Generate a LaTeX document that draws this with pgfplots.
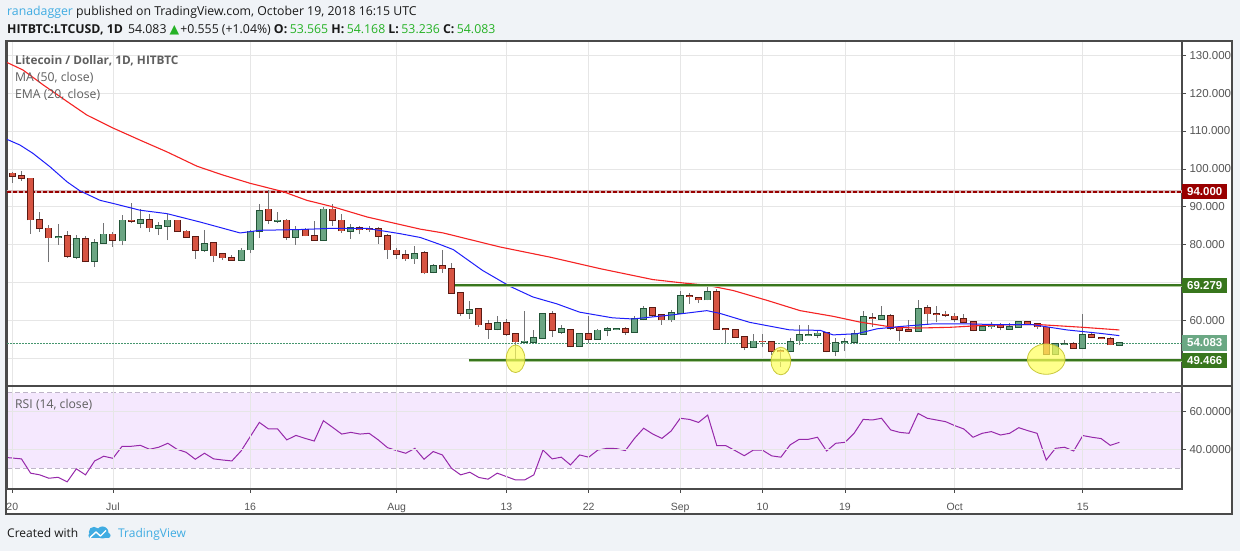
\documentclass[border=0pt]{standalone}
\usepackage{fontspec}
\setmainfont{Open Sans}
\newfontfamily\ar{Liberation Sans}
\newfontfamily\djv{DejaVu Sans}
\usepackage{pgfplots}
\pgfplotsset{compat=1.18}
\usepackage{pgfplotstable}
\definecolor{bgc}{RGB}{240,243,247}
\definecolor{frame}{RGB}{74,74,74}
\definecolor{gridc}{RGB}{230,230,230}
\definecolor{upfill}{RGB}{107,165,131}
\definecolor{upbord}{RGB}{34,84,55}
\definecolor{dnfill}{RGB}{215,84,66}
\definecolor{dnbord}{RGB}{91,26,19}
\definecolor{wick}{RGB}{115,115,117}
\definecolor{mared}{RGB}{245,35,35}
\definecolor{emablue}{RGB}{30,30,250}
\definecolor{supg}{RGB}{56,118,29}
\definecolor{supgl}{RGB}{170,200,150}
\definecolor{dred}{RGB}{153,0,0}
\definecolor{dredl}{RGB}{215,185,185}
\definecolor{curp}{RGB}{70,150,110}
\definecolor{curbox}{RGB}{107,168,132}
\definecolor{elly}{RGB}{255,255,90}
\definecolor{ellb}{RGB}{200,200,60}
\definecolor{rsic}{RGB}{150,40,170}
\definecolor{rsiband}{RGB}{245,232,254}
\definecolor{rsidash}{RGB}{190,180,200}
\definecolor{ticklab}{RGB}{85,85,85}
\definecolor{hgreen}{RGB}{38,178,38}
\definecolor{tvblue}{RGB}{64,172,226}
\definecolor{htext}{RGB}{25,25,25}
\definecolor{legc}{RGB}{95,95,95}

% up candles: day index, open, high, low, close
\pgfplotstableread{
d o h l c
5 81.9 85.4 80.0 82.1
7 76.8 82.5 76.1 81.6
9 75.6 81.6 74.1 80.5
10 80.5 85.7 80.3 82.7
12 81.1 87.8 79.8 86.4
14 85.7 89.5 84.4 86.6
16 84.4 86.0 82.5 85.0
17 85.0 88.2 81.2 86.4
21 78.5 83.8 78.1 80.3
25 76.0 79.2 75.6 78.5
26 78.7 84.0 77.8 83.5
27 83.5 90.7 81.8 89.0
29 86.3 88.6 85.7 86.4
31 82.0 84.9 80.0 84.0
34 81.2 90.0 81.0 89.3
37 83.5 85.4 81.5 84.4
44 76.3 79.6 75.0 77.6
46 72.8 75.0 72.4 74.5
50 62.0 65.1 60.4 62.8
53 57.8 61.3 57.4 59.4
56 54.3 62.4 54.0 54.5
57 54.3 57.5 54.2 55.4
58 55.4 61.9 55.3 61.8
60 56.9 58.9 56.5 57.8
62 53.2 56.8 53.1 56.5
64 55.1 57.8 55.0 57.4
65 57.4 58.2 55.8 57.8
66 57.7 58.0 57.4 57.8
68 56.9 61.3 56.7 60.4
69 60.4 63.7 60.0 63.1
72 60.2 62.8 59.6 62.0
73 62.0 67.9 61.9 66.5
76 65.5 69.0 65.3 67.5
81 52.9 56.5 52.7 54.5
85 51.9 55.5 51.6 54.3
86 54.7 58.9 53.4 56.2
87 56.2 58.9 55.8 56.3
88 56.2 57.5 55.3 56.6
90 51.9 55.4 50.6 54.1
91 54.2 55.4 51.9 54.3
92 54.3 57.4 53.7 56.5
93 56.5 62.6 56.3 60.9
95 60.4 63.7 60.0 61.3
99 57.2 65.5 57.1 63.1
106 57.5 59.0 57.4 58.4
107 58.4 59.6 57.8 58.9
109 57.8 59.3 57.5 58.4
110 58.2 59.9 58.1 59.6
114 51.2 53.9 51.2 53.8
115 53.8 54.9 53.7 53.9
117 52.8 61.6 52.5 56.3
121 53.565 54.168 53.236 54.083
}\upc

% down candles
\pgfplotstableread{
d o h l c
0 98.8 99.2 96.4 98.1
1 98.1 99.4 96.9 97.5
2 97.5 97.7 82.9 86.6
3 86.6 88.6 83.4 84.3
4 84.3 85.1 75.4 81.9
6 82.3 83.6 76.5 76.9
8 81.6 82.2 75.4 75.6
11 82.7 83.4 79.4 81.3
13 86.4 91.1 85.7 86.2
15 86.6 88.2 83.4 84.5
18 86.4 86.6 83.4 83.5
19 83.5 84.0 81.8 82.0
20 82.1 82.4 76.3 78.5
22 80.5 80.7 75.4 77.1
23 77.6 77.8 75.9 76.6
24 76.6 77.2 75.8 76.0
28 89.3 94.4 85.4 86.4
30 86.4 86.7 81.2 82.0
32 84.0 84.5 82.2 82.4
33 82.4 86.3 81.2 81.3
35 89.3 90.7 84.9 86.4
36 86.4 88.0 83.1 83.7
38 84.5 85.0 82.7 84.0
39 84.2 85.0 83.4 84.1
40 84.1 84.8 80.3 82.2
41 82.4 82.9 76.2 78.7
42 78.5 79.0 76.2 77.6
43 77.4 78.5 75.7 76.3
45 77.9 78.3 72.2 72.6
47 74.5 78.7 72.6 73.7
48 73.7 75.3 67.1 67.3
49 67.3 67.6 61.1 62.0
51 63.1 63.2 58.4 58.9
52 59.1 60.0 55.1 57.8
54 59.4 60.4 56.0 56.5
55 56.5 56.6 49.6 54.4
59 61.8 62.4 55.6 57.4
61 57.5 57.6 52.9 53.2
63 56.5 61.1 54.0 55.1
67 57.8 58.2 56.2 56.9
70 63.4 63.5 60.9 61.5
71 61.5 61.7 58.9 60.2
74 66.5 67.2 64.4 66.4
75 65.9 66.3 64.6 65.5
77 67.5 68.4 57.6 57.8
78 57.8 58.0 54.1 57.6
79 57.5 57.8 55.5 55.6
80 55.6 55.8 52.2 52.9
82 54.5 56.5 52.9 54.4
83 54.3 54.7 51.0 51.9
84 51.9 52.5 47.8 51.8
89 56.7 56.8 51.6 51.9
94 60.7 62.0 58.4 60.6
96 61.3 61.6 57.5 58.0
97 58.0 58.2 54.5 57.5
98 57.5 60.0 57.0 57.1
100 63.4 64.2 59.0 61.8
101 61.8 63.7 59.5 61.6
102 61.6 62.5 60.9 61.4
103 61.1 62.0 59.6 60.4
104 60.4 61.8 59.5 59.6
105 59.6 59.8 57.1 57.5
108 58.9 59.3 57.4 58.2
111 59.6 59.8 58.8 59.1
112 59.1 59.3 57.8 58.4
113 58.2 58.4 51.0 51.2
116 53.8 54.4 52.5 52.8
118 56.3 56.9 55.3 55.6
119 55.4 55.6 55.0 55.3
120 55.1 55.6 53.4 53.6
}\dnc

% MA (50, close)
\pgfplotstableread{
d v
-0.58 128.1
1.17 126.1
3.36 122.2
5.98 117.8
8.16 114.2
11.0 110.8
13.96 107.6
16.9 104.5
20.2 100.7
23.0 98.4
26.0 96.2
29.6 94.0
32.2 91.7
35.05 90.0
38.8 87.3
44.6 84.1
47.1 83.1
53.3 79.4
58.8 76.7
64.2 73.7
70.0 70.8
73.3 69.9
75.9 69.3
78.8 67.9
82.5 65.3
86.1 62.6
89.7 61.1
92.6 59.6
96.3 58.2
98.9 58.0
102.5 58.2
106.1 58.7
109.8 58.9
112.3 58.9
117.0 58.2
121.0 57.5
}\mafifty

% EMA (20, close)
\pgfplotstableread{
d v
-0.58 107.8
0.84 106.3
2.26 104.1
4.1 100.6
5.98 96.6
7.4 94.2
9.6 91.7
11.0 90.9
13.96 89.1
16.9 88.2
20.5 86.0
24.9 83.1
27.1 83.8
31.4 84.0
34.7 84.3
38.8 84.3
42.4 82.9
44.6 81.9
46.7 80.1
48.2 78.7
51.4 73.2
54.4 69.0
56.9 66.2
59.5 64.4
62.0 62.2
65.6 60.7
67.8 60.4
72.2 61.5
75.9 62.6
77.3 61.9
80.6 59.5
85.0 57.5
88.3 57.4
89.7 56.2
92.3 56.5
94.5 57.8
97.0 58.4
100.6 59.1
104.3 59.1
107.9 58.9
111.5 58.9
115.3 57.5
118.9 56.6
121.0 56.0
}\ematw

% RSI (14, close)
\pgfplotstableread{
d v
-0.58 35.6
1 34.9
2 27.3
3 26.4
4 24.6
5 25.1
6 22.7
7 29.6
8 26.4
9 33.8
10 36.3
11 35.2
12 41.6
13 41.6
14 42.1
15 40.0
16 41.1
17 43.2
18 40.0
19 38.4
20 34.7
21 37.9
22 34.9
23 34.3
24 33.8
25 39.1
26 46.7
27 54.3
28 50.8
29 50.8
30 45.0
31 47.4
32 45.8
33 44.4
34 55.2
35 51.7
36 48.1
37 49.0
38 48.1
39 48.5
40 45.0
41 40.9
42 39.3
43 37.9
44 40.5
45 34.7
46 38.8
47 37.0
48 29.9
49 26.4
50 27.8
51 25.0
52 24.1
53 27.3
54 25.5
55 23.7
56 23.7
57 26.4
58 39.6
59 34.9
60 35.8
61 31.7
62 37.0
63 35.8
64 39.6
65 40.5
66 40.4
67 39.3
68 45.8
69 51.2
70 48.1
71 45.8
72 49.7
73 56.5
74 55.9
75 54.3
76 58.2
77 41.9
78 41.9
79 39.3
80 36.6
81 39.6
82 39.5
83 36.5
84 35.8
85 42.3
86 45.3
87 45.3
88 46.4
89 39.1
90 43.2
91 43.7
92 48.5
93 55.9
94 55.6
95 56.5
96 50.3
97 49.0
98 48.5
99 59.1
100 56.5
101 55.6
102 54.7
103 52.6
104 50.8
105 46.4
106 48.5
107 49.4
108 47.6
109 48.5
110 51.5
111 49.9
112 48.5
113 34.3
114 40.5
115 41.1
116 39.1
117 47.3
118 46.4
119 45.7
120 42.1
121 43.7
}\rsitab

\begin{document}
\begin{tikzpicture}
\fill[bgc] (0pt,0pt) rectangle (1240pt,551pt);
\useasboundingbox (0pt,0pt) rectangle (1240pt,551pt);
\fill[white] (6pt,37pt) rectangle (1232pt,510pt);

% ---------------- main price pane ----------------
\begin{axis}[
  at={(7pt,165pt)}, anchor=south west, scale only axis,
  width=1175pt, height=344.5pt,
  xmin=-0.58, xmax=127.84, ymin=42.71, ymax=133.63,
  clip=false,
  axis line style={draw=frame, line width=1.2pt},
  xtick={0,11,26,42,54,63,73,82,91,103,117}, xticklabels={},
  xtick style={draw=none},
  ytick={50,60,...,130},
  yticklabels={{},60.000,{},80.000,90.000,100.000,110.000,120.000,130.000},
  ytick pos=right, yticklabel pos=right, tick align=outside,
  major tick length=4pt, ytick style={draw=frame, line width=0.8pt},
  yticklabel style={font={\ar\fontsize{11.5}{13}\selectfont}, text=ticklab},
  grid=major, major grid style={draw=gridc, line width=0.8pt},
]
% current price dotted line
\addplot[curp, line width=0.7pt, dash pattern=on 1.5pt off 1.5pt] coordinates {(-0.58,54.083) (127.84,54.083)};
% 94 resistance
\addplot[dredl, line width=3.4pt] coordinates {(-0.58,94) (127.84,94)};
\addplot[dred, line width=2pt, dash pattern=on 4pt off 2pt] coordinates {(-0.58,94) (127.84,94)};
% wicks
\addplot[draw=none, error bars/.cd, y dir=plus, y explicit, error mark=none,
  error bar style={draw=wick, line width=1pt}]
  table[x=d, y=l, y error expr=\thisrow{h}-\thisrow{l}] {\upc};
\addplot[draw=none, error bars/.cd, y dir=plus, y explicit, error mark=none,
  error bar style={draw=wick, line width=1pt}]
  table[x=d, y=l, y error expr=\thisrow{h}-\thisrow{l}] {\dnc};
% bodies (border then fill)
\addplot[draw=none, error bars/.cd, y dir=plus, y explicit, error mark=none,
  error bar style={draw=upbord, line width=7pt}]
  table[x=d, y expr={min(\thisrow{o},\thisrow{c})-0.2}, y error expr={abs(\thisrow{c}-\thisrow{o})+0.4}] {\upc};
\addplot[draw=none, error bars/.cd, y dir=plus, y explicit, error mark=none,
  error bar style={draw=upfill, line width=5pt}]
  table[x=d, y expr={min(\thisrow{o},\thisrow{c})}, y error expr={abs(\thisrow{c}-\thisrow{o})}] {\upc};
\addplot[draw=none, error bars/.cd, y dir=plus, y explicit, error mark=none,
  error bar style={draw=dnbord, line width=7pt}]
  table[x=d, y expr={min(\thisrow{o},\thisrow{c})-0.2}, y error expr={abs(\thisrow{c}-\thisrow{o})+0.4}] {\dnc};
\addplot[draw=none, error bars/.cd, y dir=plus, y explicit, error mark=none,
  error bar style={draw=dnfill, line width=5pt}]
  table[x=d, y expr={min(\thisrow{o},\thisrow{c})}, y error expr={abs(\thisrow{c}-\thisrow{o})}] {\dnc};
% moving averages
\addplot[mared, line width=1.1pt] table[x=d, y=v] {\mafifty};
\addplot[emablue, line width=1pt] table[x=d, y=v] {\ematw};
% support / resistance lines
\addplot[supgl, line width=3.6pt] coordinates {(48.4,69.279) (127.84,69.279)};
\addplot[supg, line width=1.8pt] coordinates {(48.4,69.279) (127.84,69.279)};
\addplot[supgl, line width=3.6pt] coordinates {(49.9,49.466) (127.84,49.466)};
\addplot[supg, line width=1.8pt] coordinates {(49.9,49.466) (127.84,49.466)};
% highlight ellipses
\draw[draw=ellb, line width=0.8pt, fill=elly, fill opacity=0.7] (axis cs:55,49.9) ellipse [x radius=9.3pt, y radius=13.8pt];
\draw[draw=ellb, line width=0.8pt, fill=elly, fill opacity=0.7] (axis cs:84,49.3) ellipse [x radius=9.8pt, y radius=13.8pt];
\draw[draw=ellb, line width=0.8pt, fill=elly, fill opacity=0.7] (axis cs:113,49.8) ellipse [x radius=18.8pt, y radius=15.2pt];
% price boxes
\node[anchor=west, text=white, font={\ar\bfseries\fontsize{11.5}{13}\selectfont}, minimum width=45pt, minimum height=15.5pt, inner sep=0pt, fill=dred] at (axis cs:127.84,94) {94.000};
\node[anchor=west, text=white, font={\ar\bfseries\fontsize{11.5}{13}\selectfont}, minimum width=45pt, minimum height=15.5pt, inner sep=0pt, fill=supg] at (axis cs:127.84,69.279) {69.279};
\node[anchor=west, text=white, font={\ar\bfseries\fontsize{11.5}{13}\selectfont}, minimum width=45pt, minimum height=15.5pt, inner sep=0pt, fill=curbox] at (axis cs:127.84,54.083) {54.083};
\node[anchor=west, text=white, font={\ar\bfseries\fontsize{11.5}{13}\selectfont}, minimum width=45pt, minimum height=15.5pt, inner sep=0pt, fill=supg] at (axis cs:127.84,49.466) {49.466};
\end{axis}

% ---------------- RSI pane ----------------
\begin{axis}[
  at={(7pt,62pt)}, anchor=south west, scale only axis,
  width=1175pt, height=103pt,
  xmin=-0.58, xmax=127.84, ymin=18.88, ymax=73.67,
  axis on top,
  axis line style={draw=frame, line width=1.2pt},
  xtick={0,11,26,42,54,63,73,82,91,103,117},
  xticklabels={20,Jul,16,Aug,13,22,Sep,10,19,Oct,15},
  xtick pos=bottom, tick align=outside, major tick length=4pt,
  xtick style={draw=frame, line width=0.8pt},
  xticklabel style={font={\ar\fontsize{10.5}{12}\selectfont}, text=ticklab, anchor=base, yshift=-18pt},
  ytick={40,60}, yticklabels={40.0000,60.0000},
  ytick pos=right, yticklabel pos=right,
  ytick style={draw=frame, line width=0.8pt},
  yticklabel style={font={\ar\fontsize{11.5}{13}\selectfont}, text=ticklab},
  grid=major, major grid style={draw=gridc, line width=0.8pt},
]
\fill[rsiband] (axis cs:-0.58,30) rectangle (axis cs:127.84,70);
\addplot[rsidash, line width=0.8pt, dash pattern=on 5pt off 3pt] coordinates {(-0.58,70) (127.84,70)};
\addplot[rsidash, line width=0.8pt, dash pattern=on 5pt off 3pt] coordinates {(-0.58,30) (127.84,30)};
\addplot[rsic, line width=1pt] table[x=d, y=v] {\rsitab};
\end{axis}

% frame and separators
\draw[frame, line width=1.2pt] (6pt,37pt) rectangle (1232pt,510pt);
\draw[frame, line width=1.4pt] (6pt,165pt) -- (1232pt,165pt);

% legends inside panes
\node[anchor=base west, inner sep=0pt, text=legc, font={\bfseries\fontsize{11.8}{13}\selectfont}] at (15pt,486pt) {Litecoin / Dollar, 1D, HITBTC};
\node[anchor=base west, inner sep=0pt, text=legc, font={\fontsize{12.2}{14}\selectfont}] at (15pt,469.3pt) {MA (50, close)};
\node[anchor=base west, inner sep=0pt, text=legc, font={\fontsize{12.2}{14}\selectfont}] at (15pt,452pt) {EMA (20, close)};
\node[anchor=base west, inner sep=0pt, text=legc, font={\fontsize{12.2}{14}\selectfont}] at (15pt,142.7pt) {RSI (14, close)};

% header
\node[anchor=base west, inner sep=0pt, text=htext, font={\fontsize{12.3}{14}\selectfont}] at (7pt,535.7pt)
  {\textcolor{tvblue}{ranadagger} published on TradingView.com, October 19, 2018 16:15 UTC};
\node[anchor=base west, inner sep=0pt, text=htext, font={\fontsize{12.3}{14}\selectfont}] at (7pt,517.7pt)
  {\textbf{HITBTC:LTCUSD, 1D}\hspace{2pt} 54.083 {\djv\fontsize{12.5}{14}\selectfont\textcolor{hgreen}{▲}}\hspace{1pt}+0.555 (+1.04\%) \textbf{O:}\hspace{2.5pt}\textcolor{hgreen}{53.565} \textbf{H:}\hspace{2.5pt}\textcolor{hgreen}{54.168} \textbf{L:}\hspace{2.5pt}\textcolor{hgreen}{53.236} \textbf{C:}\hspace{2.5pt}\textcolor{hgreen}{54.083}};

% footer
\node[anchor=base west, inner sep=0pt, text=htext, font={\fontsize{12}{14}\selectfont}] at (7pt,13pt) {Created with};
\fill[tvblue] (90pt,13pt) rectangle (109pt,18pt);
\fill[tvblue] (94pt,19pt) circle (5.2pt);
\fill[tvblue] (102.5pt,18.5pt) circle (6pt);
\fill[tvblue] (91pt,15.5pt) circle (2.6pt);
\fill[tvblue] (108pt,15.5pt) circle (2.6pt);
\draw[white, line width=1.4pt, line join=round] (90pt,13.5pt) -- (96pt,19pt) -- (100.5pt,15pt) -- (106pt,20.5pt);
\node[anchor=base west, inner sep=0pt, text=tvblue, font={\fontsize{12}{14}\selectfont}] at (118pt,13pt) {TradingView};
\end{tikzpicture}
\end{document}
